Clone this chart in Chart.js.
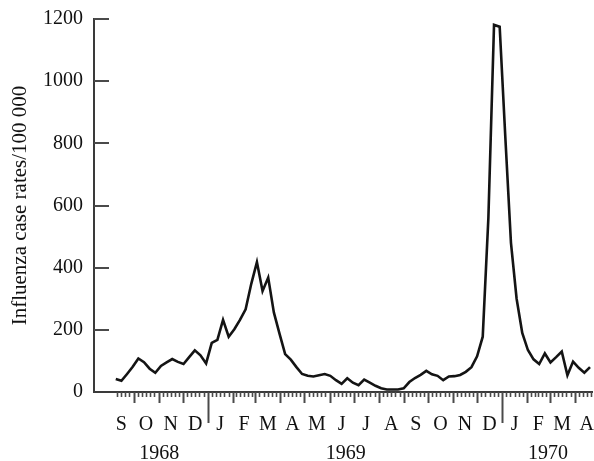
<!DOCTYPE html>
<html><head><meta charset="utf-8">
<script src="https://cdn.jsdelivr.net/npm/chart.js@4.4.0/dist/chart.umd.min.js"></script>
<style>html,body{margin:0;padding:0;background:#fff}canvas{display:block}</style>
</head><body>
<canvas id="c" width="594" height="461"></canvas>
<script>
// ---- data (weekly influenza case rates per 100 000) ----
const firstWeek = '1968-09-09';
const rates = [
  42, 36, 58, 81, 108, 96, 75, 62, 84, 95,
  106, 97, 90, 112, 134, 118, 92, 158, 168, 232,
  178, 202, 232, 266, 348, 418, 325, 368, 256, 188,
  122, 104, 80, 58, 52, 50, 54, 58, 52, 38,
  26, 44, 30, 22, 40, 30, 20, 12, 8, 8,
  8, 12, 32, 45, 55, 68, 57, 52, 38, 50,
  51, 55, 65, 80, 115, 178, 560, 1181, 1175, 820,
  480, 300, 190, 135, 105, 90, 124, 95, 112, 130,
  54, 98, 78, 62, 80
];
const firstMonth = '1968-09';
const monthLabels = ['S','O','N','D','J','F','M','A','M','J','J','A','S','O','N','D','J','F','M','A'];
const yearLabels = ['1968','1969','1970'];
const yearLabelDates = ['1968-11-02','1969-06-21','1970-02-27'];
const yTicks = [0,200,400,600,800,1000,1200];
const axisStart = '1968-08-13';
const axisEnd = '1970-04-23';

// ---- helpers ----
const DAY = 86400000;
const ORIGIN = Date.UTC(1968, 8, 1);
function dayOf(s){ const p = s.split('-').map(Number); return (Date.UTC(p[0], p[1]-1, p[2]||1) - ORIGIN) / DAY; }
const w0 = dayOf(firstWeek);
const points = rates.map((v,i)=>({x: w0 + 7*i, y: v}));
const fm = firstMonth.split('-').map(Number);
const monthBounds = [];
const monthIsJan = [];
for (let i=0;i<=monthLabels.length;i++){
  const t = Date.UTC(fm[0], fm[1]-1+i, 1);
  monthBounds.push((t-ORIGIN)/DAY);
  monthIsJan.push(new Date(t).getUTCMonth()===0);
}
const monthCenters = monthLabels.map((_,i)=>(monthBounds[i]+monthBounds[i+1])/2);
const yearCenters = yearLabelDates.map(dayOf);
const xMin = dayOf(axisStart), xMax = dayOf(axisEnd);
const FONT = '"Liberation Serif", "Times New Roman", "DejaVu Serif", serif';
const hiddenGrid = (len) => ({ display: true, drawOnChartArea: false, drawTicks: true,
                               tickLength: len, color: 'rgba(0,0,0,0)' });

const axisTicks = {
  id: 'axisTicks',
  afterDraw(chart){
    const {ctx, chartArea:{left, bottom}, scales:{x, y}} = chart;
    ctx.save();
    ctx.strokeStyle = '#4a4a4a';
    ctx.lineCap = 'butt';
    ctx.lineWidth = 2;
    yTicks.forEach(v=>{
      if (v===0) return;
      const py = Math.round(y.getPixelForValue(v));
      ctx.beginPath(); ctx.moveTo(left, py); ctx.lineTo(left+15, py); ctx.stroke();
    });
    for (let i=0;i<monthBounds.length-1;i++){
      const a = monthBounds[i], b = monthBounds[i+1];
      for (let k=0;k<6;k++){
        const d = a + (b-a)*k/6;
        if (d < w0 || d > xMax) continue;
        const px = Math.round(x.getPixelForValue(d)) + 0.5;
        let len = 5, lw = 1.6;
        if (k===0){ len = monthIsJan[i] ? 31 : 11; lw = 2; }
        ctx.lineWidth = lw;
        ctx.beginPath(); ctx.moveTo(px, bottom); ctx.lineTo(px, bottom+len); ctx.stroke();
      }
    }
    ctx.restore();
  }
};

new Chart(document.getElementById('c'), {
  type: 'line',
  data: { datasets: [{
    data: points, borderColor: '#141414', borderWidth: 2.6,
    pointRadius: 0, tension: 0, fill: false
  }]},
  options: {
    responsive: false, animation: false, devicePixelRatio: 1,
    layout: { padding: { top: 19, right: 0, left: 0, bottom: 0 } },
    plugins: { legend: { display: false }, tooltip: { enabled: false } },
    scales: {
      x: {
        type: 'linear', position: 'bottom', min: xMin, max: xMax,
        afterBuildTicks: s => { s.ticks = monthCenters.map(v=>({value:v})); },
        afterFit: s => { s.height = 44; },
        ticks: { autoSkip: false, maxRotation: 0, padding: 0, color: '#111',
                 font: { family: FONT, size: 20 }, callback: (v,i)=>monthLabels[i] },
        grid: hiddenGrid(21),
        border: { display: true, color: '#3a3a3a', width: 2 }
      },
      x2: {
        type: 'linear', position: 'bottom', min: xMin, max: xMax,
        afterBuildTicks: s => { s.ticks = yearCenters.map(v=>({value:v})); },
        afterFit: s => { s.height = 25; },
        ticks: { autoSkip: false, maxRotation: 0, padding: 0, color: '#111',
                 font: { family: FONT, size: 20 }, callback: (v,i)=>yearLabels[i] },
        grid: hiddenGrid(6),
        border: { display: false }
      },
      y: {
        min: 0, max: 1200,
        afterBuildTicks: s => { s.ticks = yTicks.map(v=>({value:v})); },
        afterFit: s => { s.width = 94; },
        ticks: { padding: 0, color: '#111', font: { family: FONT, size: 20 },
                 callback: v => String(v) },
        grid: hiddenGrid(11),
        border: { display: true, color: '#3a3a3a', width: 2 },
        title: { display: true, text: 'Influenza case rates/100 000', color: '#111',
                 font: { family: FONT, size: 21 }, padding: { top: 8, bottom: 0 } }
      }
    }
  },
  plugins: [axisTicks]
});
</script>
</body></html>
